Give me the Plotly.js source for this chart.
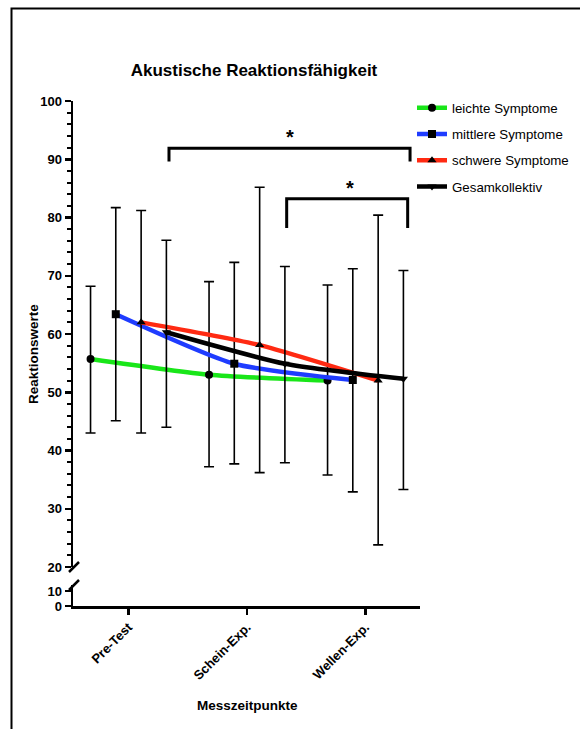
<!DOCTYPE html>
<html>
<head>
<meta charset="utf-8">
<script src="https://cdn.plot.ly/plotly-3.0.1.min.js"></script>
<style>html,body{margin:0;padding:0;background:#fff;}#chart{width:580px;height:729px;}</style>
</head>
<body>
<div id="chart"></div>
<script>
// ---- data ----
const categories = ['Pre-Test', 'Schein-Exp.', 'Wellen-Exp.'];
const seriesNames = ['leichte Symptome', 'mittlere Symptome', 'schwere Symptome', 'Gesamkollektiv'];

const leichteMean  = [55.7, 53.0, 52.0];
const leichteUpper = [68.2, 69.0, 68.4];
const leichteLower = [43.0, 37.2, 35.8];

const mittlereMean  = [63.4, 54.9, 52.1];
const mittlereUpper = [81.7, 72.3, 71.2];
const mittlereLower = [45.1, 37.7, 32.9];

const schwereMean  = [62.0, 58.1, 52.0];
const schwereUpper = [81.2, 85.2, 80.4];
const schwereLower = [43.0, 36.2, 23.8];

const gesamtMean  = [60.3, 54.9, 52.3];
const gesamtUpper = [76.1, 71.6, 70.9];
const gesamtLower = [44.0, 37.9, 33.3];

// ---- styling ----
const colors  = ['#19e619', '#1f3cff', '#ff2a12', '#000000'];
const symbols = ['circle', 'square', 'triangle-up', 'triangle-down'];
const offsets = [-0.32, -0.107, 0.107, 0.32];
const means  = [leichteMean, mittlereMean, schwereMean, gesamtMean];
const uppers = [leichteUpper, mittlereUpper, schwereUpper, gesamtUpper];
const lowers = [leichteLower, mittlereLower, schwereLower, gesamtLower];

const traces = seriesNames.map((name, s) => {
  const x = categories.map((c, i) => i + offsets[s]);
  return {
    type: 'scatter', mode: 'lines+markers', name: name,
    legendgroup: 'g' + s,
    x: x, y: means[s], xaxis: 'x', yaxis: 'y',
    line: {color: colors[s], width: 4.5, shape: 'spline', smoothing: 0.6},
    marker: {color: '#000', symbol: symbols[s], size: 8},
    error_y: {
      type: 'data', symmetric: false,
      array: means[s].map((m, i) => uppers[s][i] - m),
      arrayminus: means[s].map((m, i) => m - lowers[s][i]),
      color: '#000', thickness: 1.6, width: 5
    },
    cliponaxis: false
  };
});
// empty trace so the lower (broken) axis segment is drawn
traces.push({type: 'scatter', mode: 'markers', x: [null], y: [null], xaxis: 'x', yaxis: 'y2',
             showlegend: false, hoverinfo: 'skip'});

const F = 'Liberation Sans, Arial, sans-serif';
const layout = {
  width: 580, height: 729,
  margin: {l: 73, r: 160, t: 101, b: 123, autoexpand: false},
  paper_bgcolor: '#fff', plot_bgcolor: '#fff',
  showlegend: true,
  font: {family: F, color: '#000', size: 12},
  title: {text: '<b>Akustische Reaktionsfähigkeit</b>', font: {family: F, size: 17, color: '#000'},
          x: 254 / 580, xanchor: 'center', y: 1 - 70 / 729, yanchor: 'middle'},
  xaxis: {
    range: [-0.468, 2.46], tickvals: [0, 1, 2], ticktext: categories,
    tickangle: -45, ticks: 'outside', ticklen: 6, tickwidth: 2.5, tickcolor: '#000',
    showline: true, linewidth: 2.5, linecolor: '#000', showgrid: false, zeroline: false,
    anchor: 'y2', automargin: false, tickfont: {family: F, size: 13, color: '#000', weight: 'bold'}
  },
  yaxis: {
    domain: [39 / 505, 1], range: [20, 100], dtick: 10, tick0: 0, anchor: 'x', automargin: false,
    ticks: 'outside', ticklen: 6, tickwidth: 2.5, tickcolor: '#000',
    minor: {dtick: 2, ticks: 'outside', ticklen: 4, tickwidth: 2, tickcolor: '#000', showgrid: false},
    showline: true, linewidth: 2.5, linecolor: '#000', showgrid: false, zeroline: false,
    tickfont: {family: F, size: 13, color: '#000', weight: 'bold'}
  },
  yaxis2: {
    domain: [0, 21 / 505], range: [0, 14], tickvals: [0, 10], anchor: 'x', automargin: false,
    ticks: 'outside', ticklen: 6, tickwidth: 2.5, tickcolor: '#000',
    showline: true, linewidth: 2.5, linecolor: '#000', showgrid: false, zeroline: false,
    tickfont: {family: F, size: 13, color: '#000', weight: 'bold'}
  },
  legend: {
    xref: 'container', yref: 'container',
    x: 412 / 580, xanchor: 'left', y: 1 - 92.5 / 729, yanchor: 'top',
    font: {family: F, size: 13.3, color: '#000'},
    traceorder: 'grouped', tracegroupgap: 6, itemwidth: 30,
    bgcolor: 'rgba(0,0,0,0)'
  },
  shapes: [
    // outer frame
    {type: 'rect', xref: 'paper', yref: 'paper', x0: (11.5 - 73) / 347, x1: 1.7, y0: -0.4, y1: (606 - 8.5) / 505,
     line: {color: '#000', width: 2}},
    // significance brackets
    {type: 'path', xref: 'x', yref: 'y', path: 'M 0.342 89.6 L 0.342 91.9 L 2.376 91.9 L 2.376 89.6',
     line: {color: '#000', width: 3}},
    {type: 'path', xref: 'x', yref: 'y', path: 'M 1.335 78.2 L 1.335 83.2 L 2.356 83.2 L 2.356 78.2',
     line: {color: '#000', width: 3}},
    // axis break marks
    {type: 'line', xref: 'paper', yref: 'paper', x0: (69 - 73) / 347, x1: (79 - 73) / 347,
     y0: (606 - 572) / 505, y1: (606 - 562) / 505, line: {color: '#000', width: 2.5}},
    {type: 'line', xref: 'paper', yref: 'paper', x0: (69 - 73) / 347, x1: (79 - 73) / 347,
     y0: (606 - 590) / 505, y1: (606 - 580) / 505, line: {color: '#000', width: 2.5}}
  ],
  annotations: [
    {text: '<b>*</b>', xref: 'x', yref: 'y', x: 1.359, y: 91.6, showarrow: false, yanchor: 'bottom',
     font: {family: F, size: 20, color: '#000'}},
    {text: '<b>*</b>', xref: 'x', yref: 'y', x: 1.87, y: 82.9, showarrow: false, yanchor: 'bottom',
     font: {family: F, size: 20, color: '#000'}},
    {text: '<b>Reaktionswerte</b>', xref: 'paper', yref: 'paper', x: (33 - 73) / 347, y: (606 - 354) / 505,
     xanchor: 'center', yanchor: 'middle',
     textangle: -90, showarrow: false, font: {family: F, size: 13.5, color: '#000'}},
    {text: '<b>Messzeitpunkte</b>', xref: 'paper', yref: 'paper', x: (247 - 73) / 347, y: (606 - 705) / 505,
     xanchor: 'center', yanchor: 'middle',
     showarrow: false, font: {family: F, size: 13.5, color: '#000'}}
  ]
};

Plotly.newPlot('chart', traces, layout, {displayModeBar: false, staticPlot: true});
</script>
</body>
</html>
